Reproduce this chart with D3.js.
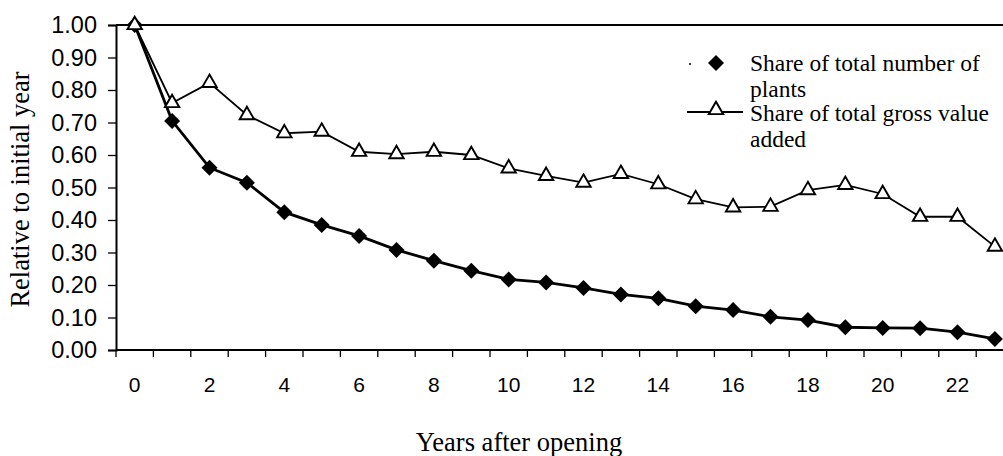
<!DOCTYPE html>
<html><head><meta charset="utf-8">
<script src="https://cdn.jsdelivr.net/npm/d3@7"></script>
<style>body{margin:0;background:#fff}svg{display:block}</style>
</head><body>
<svg id="c" width="1003" height="456"></svg>
<script>
const years = d3.range(0, 24);
const xTickLabels = ["0","2","4","6","8","10","12","14","16","18","20","22"];
const yTickValues = [0,0.1,0.2,0.3,0.4,0.5,0.6,0.7,0.8,0.9,1.0];
const plants = [1.00,0.705,0.561,0.515,0.424,0.385,0.351,0.308,0.275,0.244,0.217,0.208,0.191,0.171,0.159,0.135,0.123,0.102,0.092,0.070,0.068,0.067,0.055,0.034];
const gva = [1.00,0.76,0.822,0.723,0.667,0.672,0.61,0.603,0.61,0.60,0.559,0.536,0.515,0.542,0.51,0.464,0.439,0.441,0.492,0.508,0.48,0.41,0.41,0.318];
const seriesNames = ["Share of total number of plants","Share of total gross value added"];

const svg = d3.select("#c");
const L = 116, T = 25, B = 350, bandW = 37.4;
const R = L + bandW*24;
const x = d3.scaleBand().domain(years).range([L, R]).paddingInner(0).paddingOuter(0);
const y = d3.scaleLinear().domain([0,1]).range([B, T]);
const cx = d => x(d) + x.bandwidth()/2;
const serif = "Liberation Serif, Times New Roman, serif";
const sans = "Liberation Sans, Arial, sans-serif";

// frame top line
svg.append("line").attr("x1",L).attr("x2",R).attr("y1",T).attr("y2",T).attr("stroke","#000").attr("stroke-width",2);

// y axis
const yAxis = svg.append("g").attr("transform",`translate(${L},0)`)
  .call(d3.axisLeft(y).tickValues(yTickValues).tickFormat(d3.format(".2f")).tickSize(8).tickPadding(11));
yAxis.select(".domain").attr("stroke-width",2);
yAxis.selectAll(".tick line").attr("stroke-width",1.3);
yAxis.selectAll("text").attr("font-family",sans).attr("font-size",23.5).attr("fill","#000");

// x axis with ticks at band boundaries
const xAxisG = svg.append("g").attr("transform",`translate(0,${B})`);
xAxisG.append("line").attr("x1",L).attr("x2",R).attr("stroke","#000").attr("stroke-width",2);
const tickPos = d3.range(0,25).map(i => L + i*x.step());
xAxisG.selectAll("line.tk").data(tickPos).join("line").attr("class","tk")
  .attr("x1",d=>d).attr("x2",d=>d).attr("y1",0).attr("y2",7).attr("stroke","#000").attr("stroke-width",1.3);
xAxisG.selectAll("text").data(xTickLabels).join("text")
  .attr("x", d => cx(+d)).attr("y", 42)
  .attr("text-anchor","middle")
  .attr("font-family",sans).attr("font-size",21).text(d=>d);

// axis titles
svg.append("text").attr("transform",`translate(29,${(T+B)/2+2}) rotate(-90)`)
  .attr("text-anchor","middle").attr("font-family",serif).attr("font-size",26.5)
  .text("Relative to initial year");
svg.append("text").attr("x",519).attr("y",451).attr("text-anchor","middle")
  .attr("font-family",serif).attr("font-size",26.5)
  .text("Years after opening");

// lines
const line = d3.line().x((d,i)=>cx(years[i])).y(d=>y(d));
svg.append("path").datum(gva).attr("d",line).attr("fill","none").attr("stroke","#000").attr("stroke-width",1.8);
svg.append("path").datum(plants).attr("d",line).attr("fill","none").attr("stroke","#000").attr("stroke-width",2.8);

// markers
const tri = d3.symbol().type(d3.symbolTriangle).size(90);
const diaPath = "M0,-8L8,0L0,8L-8,0Z";
svg.append("g").selectAll("path").data(plants).join("path")
  .attr("d",diaPath).attr("transform",(d,i)=>`translate(${cx(years[i])},${y(d)})`).attr("fill","#000");
svg.append("g").selectAll("path").data(gva).join("path")
  .attr("d",tri).attr("transform",(d,i)=>`translate(${cx(years[i])},${y(d)})`).attr("fill","#fff").attr("stroke","#000").attr("stroke-width",1.9);

// legend
const lg = svg.append("g").attr("font-family",serif).attr("font-size",23.5);
lg.append("circle").attr("cx",690).attr("cy",64).attr("r",1).attr("fill","#000");
lg.append("path").attr("d",diaPath).attr("transform","translate(716,63)").attr("fill","#000");
lg.append("text").attr("x",750).attr("y",71).text("Share of total number of");
lg.append("text").attr("x",750).attr("y",97).text("plants");
lg.append("line").attr("x1",687).attr("x2",743).attr("y1",112).attr("y2",112).attr("stroke","#000").attr("stroke-width",1.8);
lg.append("path").attr("d",tri).attr("transform","translate(716,110)").attr("fill","#fff").attr("stroke","#000").attr("stroke-width",1.9);
lg.append("text").attr("x",750).attr("y",121).text("Share of total gross value");
lg.append("text").attr("x",750).attr("y",147).text("added");
</script>
</body></html>
